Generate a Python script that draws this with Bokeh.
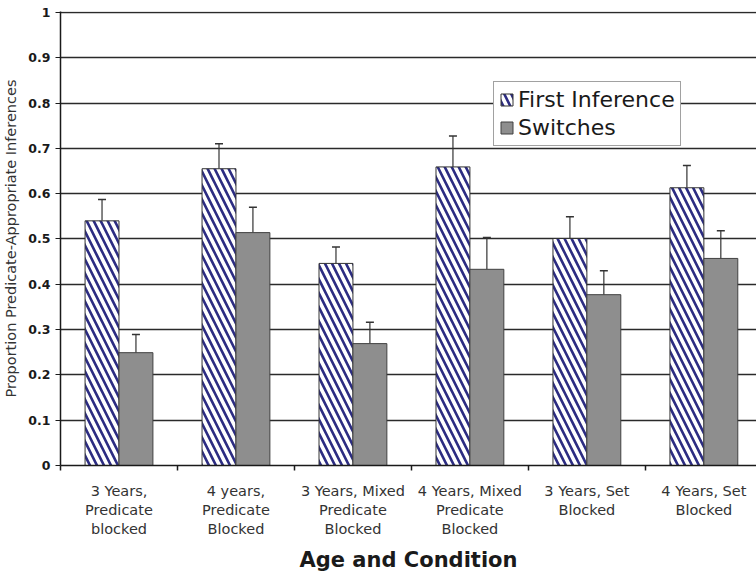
from bokeh.plotting import figure
from bokeh.models import (ColumnDataSource, Range1d, FixedTicker,
                          Whisker, TeeHead, Legend, LegendItem)
from bokeh.transform import dodge
from bokeh.embed import file_html
from bokeh.resources import INLINE

categories = ["3 Years,\nPredicate\nblocked", "4 years,\nPredicate\nBlocked",
              "3 Years, Mixed\nPredicate\nBlocked", "4 Years, Mixed\nPredicate\nBlocked",
              "3 Years, Set\nBlocked", "4 Years, Set\nBlocked"]
first_inference = [0.540, 0.655, 0.446, 0.659, 0.501, 0.613]
first_inference_err = [0.587, 0.710, 0.482, 0.727, 0.549, 0.662]
switches = [0.249, 0.514, 0.269, 0.433, 0.377, 0.457]
switches_err = [0.289, 0.570, 0.316, 0.503, 0.430, 0.518]
y_ticks = [0, 0.1, 0.2, 0.3, 0.4, 0.5, 0.6, 0.7, 0.8, 0.9, 1.0]
y_tick_labels = ["0", "0.1", "0.2", "0.3", "0.4", "0.5", "0.6", "0.7", "0.8", "0.9", "1"]

centers = [i + 0.5 for i in range(len(categories))]
boundaries = list(range(len(categories) + 1))
src = ColumnDataSource(dict(x=centers, fi=first_inference, fi_err=first_inference_err,
                            sw=switches, sw_err=switches_err))

FONT = "DejaVu Sans"
p = figure(frame_width=696, frame_height=454, output_backend="svg", toolbar_location=None,
           x_range=Range1d(0, 5.95), y_range=Range1d(0, 1.002),
           min_border_left=60, min_border_right=0, min_border_top=11, min_border_bottom=0)
p.outline_line_color = None
p.background_fill_color = "white"
p.border_fill_color = "white"

# grid
p.xgrid.visible = False
p.ygrid.ticker = FixedTicker(ticks=y_ticks)
p.ygrid.grid_line_color = "#2a2a2a"
p.ygrid.grid_line_width = 1.3

# y axis
p.yaxis.ticker = FixedTicker(ticks=y_ticks)
p.yaxis.major_label_overrides = {t: l for t, l in zip(y_ticks, y_tick_labels)}
p.yaxis.major_label_text_font = FONT
p.yaxis.major_label_text_font_style = "bold"
p.yaxis.major_label_text_font_size = "12.5px"
p.yaxis.major_label_text_color = "#1a1a1a"
p.yaxis.major_label_standoff = 5
p.yaxis.axis_line_color = "#1a1a1a"
p.yaxis.axis_line_width = 1.5
p.yaxis.major_tick_line_color = "#1a1a1a"
p.yaxis.major_tick_out = 5
p.yaxis.major_tick_in = 0
p.yaxis.minor_tick_line_color = None
p.yaxis.axis_label = "Proportion Predicate-Appropriate Inferences"
p.yaxis.axis_label_text_font = FONT
p.yaxis.axis_label_text_font_style = "normal"
p.yaxis.axis_label_text_font_size = "14.5px"
p.yaxis.axis_label_text_color = "#333333"
p.yaxis.axis_label_standoff = 6

# x axis: labels at category centres, tick marks at category boundaries
p.xaxis.ticker = FixedTicker(ticks=centers, minor_ticks=boundaries)
p.xaxis.major_label_overrides = {c: l for c, l in zip(centers, categories)}
p.xaxis.major_label_text_font = FONT
p.xaxis.major_label_text_font_size = "14.5px"
p.xaxis.major_label_text_color = "#333333"
p.xaxis.major_label_standoff = 12
p.xaxis.major_tick_line_color = None
p.xaxis.major_tick_out = 0
p.xaxis.major_tick_in = 0
p.xaxis.minor_tick_line_color = "#1a1a1a"
p.xaxis.minor_tick_line_width = 1.5
p.xaxis.minor_tick_out = 5
p.xaxis.minor_tick_in = 0
p.xaxis.axis_line_color = "#1a1a1a"
p.xaxis.axis_line_width = 1.5
p.xaxis.axis_label = "Age and Condition"
p.xaxis.axis_label_text_font = FONT
p.xaxis.axis_label_text_font_style = "bold"
p.xaxis.axis_label_text_font_size = "21px"
p.xaxis.axis_label_text_color = "#1a1a1a"
p.xaxis.axis_label_standoff = 8

w = 0.29
r1 = p.vbar(x=dodge("x", -0.145, range=p.x_range), top="fi", width=w, source=src,
            fill_color="white", line_color="#333333", line_width=1,
            hatch_pattern="\\", hatch_color="#2c2c82", hatch_scale=14, hatch_weight=2.6)
r2 = p.vbar(x=dodge("x", 0.145, range=p.x_range), top="sw", width=w, source=src,
            fill_color="#8e8e8e", line_color="#404040", line_width=1)

wh1 = Whisker(source=src, base=dodge("x", -0.145, range=p.x_range), lower="fi", upper="fi_err",
              dimension="height", line_color="#333333", line_width=1.2,
              upper_head=TeeHead(size=8, line_color="#333333", line_width=1.5), lower_head=None)
wh2 = Whisker(source=src, base=dodge("x", 0.145, range=p.x_range), lower="sw", upper="sw_err",
              dimension="height", line_color="#333333", line_width=1.2,
              upper_head=TeeHead(size=8, line_color="#333333", line_width=1.5), lower_head=None)
p.add_layout(wh1)
p.add_layout(wh2)

legend = Legend(items=[LegendItem(label="First Inference", renderers=[r1]),
                       LegendItem(label="Switches", renderers=[r2])],
                location=(433, 319))
legend.label_text_font = FONT
legend.label_text_font_size = "22px"
legend.label_text_color = "#1a1a1a"
legend.label_height = 24
legend.glyph_width = 15
legend.glyph_height = 15
legend.label_standoff = 4
legend.spacing = 3
legend.padding = 5
legend.margin = 0
legend.border_line_color = "#444444"
legend.border_line_width = 1
legend.background_fill_alpha = 1
p.add_layout(legend, "center")

open("out.html", "w").write(file_html(p, INLINE))
